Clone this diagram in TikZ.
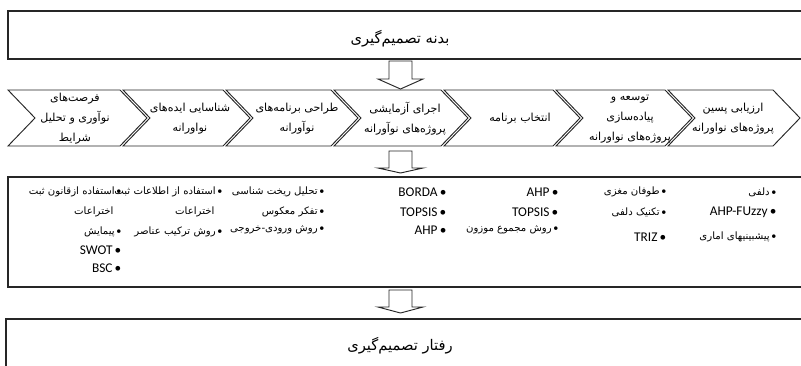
\documentclass[tikz,border=0pt]{standalone}
\usepackage{fontspec}
\setmainfont{Carlito}
\newfontfamily\persianfont[Script=Arabic]{DejaVu Sans}
\TeXXeTstate=1
\newcommand{\fatext}[1]{{\persianfont\beginR#1\endR}}
\begin{document}
\begin{tikzpicture}[x=0.75pt,y=-0.75pt,every node/.style={inner sep=1pt},
  frame/.style={draw=black!85,line width=0.9pt},
  chev/.style={draw=black!85,line width=0.7pt},
  barrow/.style={draw=black!85,line width=0.7pt,fill=white},
  title/.style={font=\fontsize{11}{13}\selectfont},
  stage/.style={align=center,font=\fontsize{8.3}{15}\selectfont},
  item/.style={anchor=east,font=\fontsize{7.6}{10}\selectfont},
  latin/.style={anchor=east,font=\fontsize{10}{12}\selectfont}]
\useasboundingbox (0,0) rectangle (801,365);
\clip (0,0) rectangle (801,365);
% boxes
\draw[frame] (8,11) rectangle (812,59);
\draw[frame] (8,177) rectangle (812,287);
\draw[frame] (6,319) rectangle (812,380);
\node[title] (body) at (400,39) {\fatext{بدنه تصمیم‌گیری}};
\node[title] (behav) at (400,346) {\fatext{رفتار تصمیم‌گیری}};
% block arrows
\foreach \a/\b/\c in {61/79/89,151/168/173,290/307/313}
  \draw[barrow] (389,\a) -- (412,\a) -- (412,\b) -- (423,\b) -- (400.5,\c)
    -- (378,\b) -- (389,\b) -- cycle;
% chevrons
\foreach \l/\t in {8/147,123/250,226/358,334/468,444/580,556/692,668/800}
  \draw[chev] (\l,90) -- (\t-27,90) -- (\t,118) -- (\t-27,146) -- (\l,146)
    -- (\l+27,118) -- cycle;
\node[stage] (s1) at (75,119) {\fatext{فرصت‌های}\\\fatext{نوآوری و تحلیل}\\\fatext{شرایط}};
\node[stage] (s2) at (190,119) {\fatext{شناسایی ایده‌های}\\\fatext{نواورانه}};
\node[stage] (s3) at (297,119) {\fatext{طراحی برنامه‌های}\\\fatext{نوآورانه}};
\node[stage] (s4) at (405,119) {\fatext{اجرای آزمایشی}\\\fatext{پروژه‌های نوآورانه}};
\node[stage] (s5) at (520,119) {\fatext{انتخاب برنامه}};
\node[stage] (s6) at (630,119) {\fatext{توسعه و}\\\fatext{پیاده‌سازی}\\\fatext{پروژه‌های نواورانه}};
\node[stage] (s7) at (733,119) {\fatext{ارزیابی پسین}\\\fatext{پروژه‌های نواورانه}};
% methods
\node[item] (m1a) at (778,192) {\fatext{دلفی}\,•};
\node[latin] (m1b) at (778,212) {AHP-FUzzy\,•};
\node[item] (m1c) at (778,237) {\fatext{پیشبینیهای اماری}\,•};
\node[item] (m2a) at (668,192) {\fatext{طوفان مغزی}\,•};
\node[item] (m2b) at (668,212) {\fatext{تکنیک دلفی}\,•};
\node[latin] (m2c) at (668,237) {TRIZ\,•};
\node[latin] (m3a) at (560,192) {AHP\,•};
\node[latin] (m3b) at (560,212) {TOPSIS\,•};
\node[item] (m3c) at (560,230) {\fatext{روش مجموع موزون}\,•};
\node[latin] (m4a) at (448,192) {BORDA\,•};
\node[latin] (m4b) at (448,212) {TOPSIS\,•};
\node[latin] (m4c) at (448,230) {AHP\,•};
\node[item] (m5a) at (326,192) {\fatext{تحلیل ریخت شناسی}\,•};
\node[item] (m5b) at (326,212) {\fatext{تفکر معکوس}\,•};
\node[item] (m5c) at (326,230) {\fatext{روش ورودی-خروجی}\,•};
\node[item] (m6a) at (224,192) {\fatext{استفاده از اطلاعات ثبت}\,•};
\node[item] (m6b) at (216,212) {\fatext{اختراعات}};
\node[item] (m6c) at (224,232) {\fatext{روش ترکیب عناصر}\,•};
\node[item] (m7a) at (123,192) {\fatext{استفاده ازقانون ثبت}\,•};
\node[item] (m7b) at (115,212) {\fatext{اختراعات}};
\node[item] (m7c) at (123,232) {\fatext{پیمایش}\,•};
\node[latin] (m7d) at (123,250) {SWOT\,•};
\node[latin] (m7e) at (123,268) {BSC\,•};
\end{tikzpicture}
\end{document}
